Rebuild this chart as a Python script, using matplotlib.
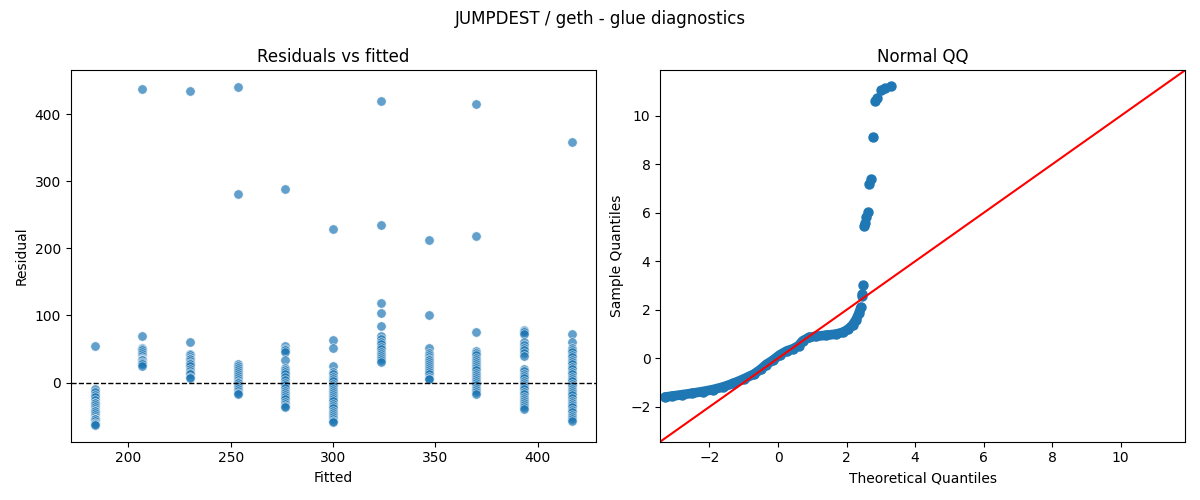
import matplotlib
matplotlib.use("Agg")
import matplotlib.pyplot as plt
import seaborn as sns
import pandas as pd
import numpy as np

# ---- Residuals vs fitted data (one list of residuals per fitted level) ----
fitted_levels = [183.5, 206.8, 230.1, 253.4, 276.7, 300.0, 323.3, 346.6, 369.9, 393.2, 416.5]

resid_183 = [55, -10, -14, -18, -22, -26, -30, -30, -33, -36, -40, -42, -42, -45, -48, -51, -54, -55, -55, -58, -60, -62, -63]
resid_207 = [437, 70, 52, 50, 48, 46, 43, 40, 37, 35, 34, 34, 33, 31, 29, 27, 25]
resid_230 = [434, 60, 43, 41, 38, 35, 35, 32, 29, 27, 24, 20, 17, 14, 12, 9, 7]
resid_253 = [440, 281, 27, 25, 22, 19, 16, 13, 10, 7, 4, 1, -1, -3, -6, -9, -12, -15, -17]
resid_277 = [288, 55, 50, 49, 45, 34, 22, 19, 15, 12, 8, 4, 0, -4, -8, -12, -15, -19, -22, -25, -29, -32, -35, -37]
resid_300 = [229, 64, 52, 24, 15, 12, 9, 6, 2, -2, -5, -9, -12, -15, -18, -22, -25, -28, -32, -35, -38, -42, -45, -48, -51, -54, -57, -59]
resid_323 = [419, 235, 119, 104, 84, 69, 65, 61, 57, 53, 50, 46, 43, 40, 37, 34, 31]
resid_347 = [213, 101, 51, 44, 41, 38, 35, 33, 30, 27, 24, 21, 18, 15, 12, 9, 6, 5]
resid_370 = [415, 219, 76, 47, 44, 41, 37, 34, 31, 27, 24, 21, 18, 14, 11, 8, 5, 2, -1, -4, -8, -11, -14, -17]
resid_393 = [79, 77, 75, 72, 60, 56, 52, 48, 44, 40, 20, 17, 13, 10, 7, 3, 0, -3, -7, -10, -14, -17, -21, -24, -28, -31, -34, -37, -40]
resid_417 = [358, 73, 60, 52, 48, 45, 41, 38, 34, 30, 27, 23, 20, 16, 12, 9, 5, 2, -2, -5, -9, -12, -16, -19, -23, -27, -30, -34, -37, -41, -44, -48, -51, -54, -57]

resid_groups = [resid_183, resid_207, resid_230, resid_253, resid_277, resid_300,
                resid_323, resid_347, resid_370, resid_393, resid_417]

# ---- Normal QQ data (theoretical vs sample quantiles) ----
qq_body_theo = [-3.30, -3.10, -2.80, -2.50, -2.20, -1.90, -1.60, -1.30, -1.00, -0.70,
                -0.50, -0.35, -0.15, 0.05, 0.25, 0.45, 0.60, 0.72, 0.90, 1.10,
                1.40, 1.70, 1.90, 2.05, 2.18, 2.28, 2.36, 2.42]
qq_body_sample = [-1.60, -1.56, -1.50, -1.44, -1.37, -1.29, -1.18, -1.03, -0.85, -0.65,
                  -0.45, -0.26, -0.08, 0.14, 0.30, 0.40, 0.52, 0.72, 0.86, 0.91,
                  0.95, 1.00, 1.08, 1.20, 1.38, 1.60, 1.85, 2.10]
qq_tail_theo = [2.44, 2.46, 2.48, 2.51, 2.54, 2.58, 2.62, 2.66, 2.71, 2.76,
                2.83, 2.90, 3.00, 3.12, 3.30]
qq_tail_sample = [2.58, 2.65, 3.03, 5.45, 5.60, 5.85, 6.02, 7.20, 7.40, 9.15,
                  10.60, 10.72, 11.08, 11.16, 11.24]
qq_limits = [-3.44, 11.88]

# ---- build long-form table ----
rows = []
for f, vals in zip(fitted_levels, resid_groups):
    for v in vals:
        rows.append((f, v))
df = pd.DataFrame(rows, columns=["fitted", "resid"])

fig, (ax1, ax2) = plt.subplots(1, 2, figsize=(12, 5), dpi=100)

sns.scatterplot(data=df, x="fitted", y="resid", alpha=0.7, ax=ax1, color="#1f77b4", s=46)
ax1.axhline(0, color="black", linestyle="--", linewidth=1)
ax1.set_title("Residuals vs fitted")
ax1.set_xlabel("Fitted")
ax1.set_ylabel("Residual")

c = "#1f77b4"
ax2.plot(qq_body_theo, qq_body_sample, color=c, linewidth=7,
         solid_capstyle="round", solid_joinstyle="round",
         marker="o", markersize=6.5, markerfacecolor=c, markeredgecolor=c)
ax2.plot(qq_tail_theo, qq_tail_sample, linestyle="none", marker="o",
         markersize=6.5, markerfacecolor=c, markeredgecolor=c)
ax2.plot(qq_limits, qq_limits, "r-")
ax2.set_xlim(qq_limits)
ax2.set_ylim(qq_limits)
ax2.set_title("Normal QQ")
ax2.set_xlabel("Theoretical Quantiles")
ax2.set_ylabel("Sample Quantiles")

fig.suptitle("JUMPDEST / geth - glue diagnostics")
fig.tight_layout()
fig.savefig("out.png")
